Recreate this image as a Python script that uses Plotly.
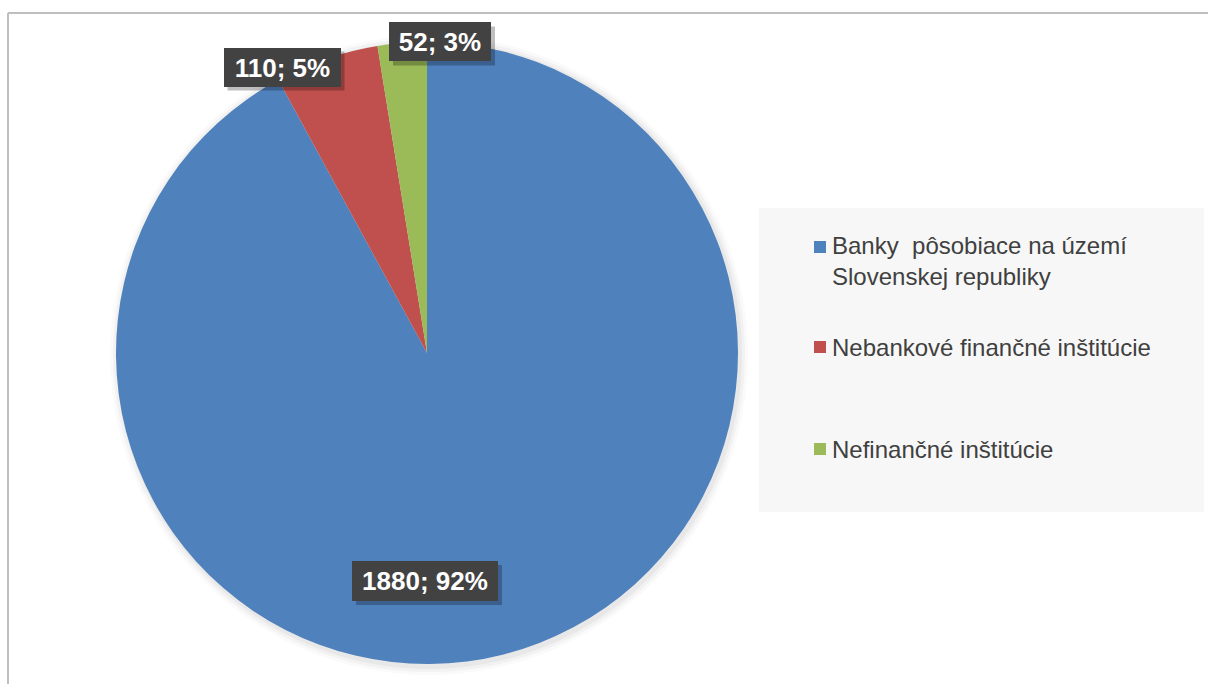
import plotly.graph_objects as go

categories = ["Banky\u00a0 pôsobiace na území<br>Slovenskej republiky",
              "Nebankové finančné inštitúcie",
              "Nefinančné inštitúcie"]
values = [1880, 110, 52]
colors = ["#4F81BD", "#C0504D", "#9BBB59"]

W, H = 1208, 684


def px(x):
    return x / W


def py(y):
    return 1 - y / H


total = sum(values)
label_texts = [f"<b>{v}; {round(100 * v / total)}%</b>" for v in values]

# pie geometry (pixels)
cx, cy, r = 427, 353, 311

fig = go.Figure()
fig.add_trace(go.Pie(
    labels=categories,
    values=values,
    marker=dict(colors=colors, line=dict(width=0)),
    sort=False,
    direction="clockwise",
    rotation=0,
    textinfo="none",
    hoverinfo="label+value+percent",
    showlegend=False,
    domain=dict(x=[px(cx - r), px(cx + r)], y=[py(cy + r), py(cy - r)]),
))

shapes = []
# soft shadow around the pie
for dr, op in [(8, 0.02), (5, 0.03), (2, 0.04)]:
    shapes.append(dict(type="circle", xref="paper", yref="paper",
                       x0=px(cx - r - dr + 2), x1=px(cx + r + dr + 2),
                       y0=py(cy + r + dr + 3), y1=py(cy - r - dr + 1),
                       fillcolor=f"rgba(0,0,0,{op})", line=dict(width=0),
                       layer="below"))

# chart border (top and left)
shapes.append(dict(type="line", xref="paper", yref="paper",
                   x0=px(8), x1=1, y0=py(13), y1=py(13),
                   line=dict(color="#BFBFBF", width=2)))
shapes.append(dict(type="line", xref="paper", yref="paper",
                   x0=px(8), x1=px(8), y0=py(13), y1=0,
                   line=dict(color="#BFBFBF", width=2)))

# legend box
shapes.append(dict(type="rect", xref="paper", yref="paper",
                   x0=px(759), x1=px(1204), y0=py(512), y1=py(208),
                   fillcolor="#F7F7F7", line=dict(width=0), layer="below"))

annotations = []
legend_y = [247, 347, 449]
text_y = [261, 347, 449]
for cat, col, ly, ty in zip(categories, colors, legend_y, text_y):
    shapes.append(dict(type="rect", xref="paper", yref="paper",
                       x0=px(814), x1=px(826), y0=py(ly + 6), y1=py(ly - 6),
                       fillcolor=col, line=dict(width=0), layer="above"))
    annotations.append(dict(text=cat, xref="paper", yref="paper",
                            x=px(830), y=py(ty), xanchor="left", yanchor="middle",
                            align="left", showarrow=False,
                            font=dict(family="Liberation Sans, Arial", size=24,
                                      color="#404040")))

# data label boxes (center px, width, height)
label_boxes = [(425, 581, 146, 40), (282, 67, 117, 39), (440, 42, 102, 39)]
for txt, (lx, ly, bw, bh) in zip(label_texts, label_boxes):
    shapes.append(dict(type="rect", xref="paper", yref="paper",
                       x0=px(lx - bw / 2 + 4), x1=px(lx + bw / 2 + 4),
                       y0=py(ly + bh / 2 + 4), y1=py(ly - bh / 2 + 4),
                       fillcolor="rgba(0,0,0,0.25)", line=dict(width=0),
                       layer="above"))
    annotations.append(dict(text=txt, xref="paper", yref="paper",
                            x=px(lx), y=py(ly), xanchor="center", yanchor="middle",
                            showarrow=False, width=bw, height=bh,
                            borderpad=0, borderwidth=0, bgcolor="#424242",
                            font=dict(family="Liberation Sans, Arial", size=26,
                                      color="#FFFFFF")))

fig.update_layout(
    width=W, height=H, autosize=False,
    margin=dict(l=0, r=0, t=0, b=0),
    paper_bgcolor="#FFFFFF", plot_bgcolor="#FFFFFF",
    shapes=shapes, annotations=annotations,
)

fig.write_html("out.html",
               config={"displayModeBar": False},
               post_script="document.body.style.margin='0';"
                           "document.body.style.overflow='hidden';")
